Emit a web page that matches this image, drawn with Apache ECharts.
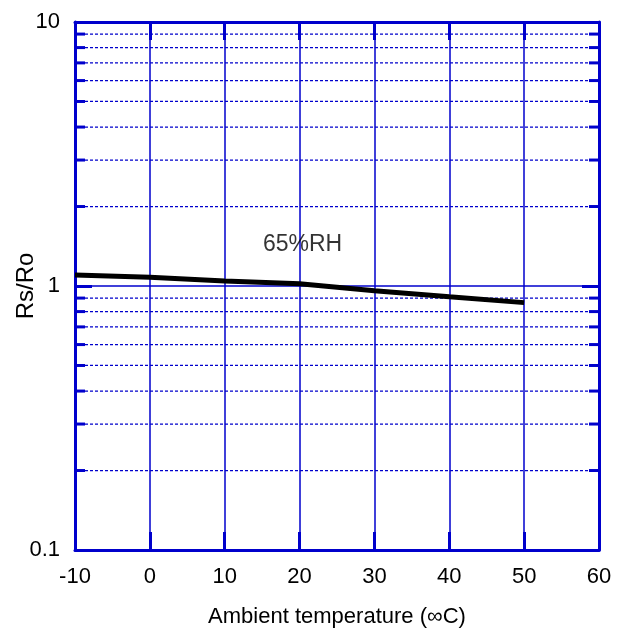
<!DOCTYPE html>
<html>
<head>
<meta charset="utf-8">
<script src="https://cdn.jsdelivr.net/npm/echarts@6/dist/echarts.min.js"></script>
<style>
html,body{margin:0;padding:0;background:#fff;}
#c{width:623px;height:633px;}
</style>
</head>
<body>
<div id="c"></div>
<script>
// Data
const temperatures = [-10, 0, 10, 20, 30, 40, 50];
const rsRo65 = [1.10, 1.08, 1.045, 1.02, 0.96, 0.91, 0.865];
const seriesLabel = '65%RH';
const labelAt = [20.4, 1.43];
const xTicks = [-10, 0, 10, 20, 30, 40, 50, 60];
const yMajor = [0.1, 1, 10];
const yMinor = [0.2, 0.3, 0.4, 0.5, 0.6, 0.7, 0.8, 0.9, 2, 3, 4, 5, 6, 7, 8, 9];
const xTitle = 'Ambient temperature (∞C)';
const yTitle = 'Rs/Ro';

const BLUE = '#0000cc';
const FONT = 'Liberation Sans, Arial, sans-serif';
const chart = echarts.init(document.getElementById('c'));

const xBase = {
  type: 'value', min: xTicks[0], max: xTicks[xTicks.length - 1], interval: 10,
  axisLine: { show: true, onZero: false, lineStyle: { color: BLUE, width: 3 } },
  axisTick: { show: true, inside: true, length: 18, lineStyle: { color: BLUE, width: 3 } }
};
const yBase = {
  type: 'log', logBase: 10, min: yMajor[0], max: yMajor[yMajor.length - 1],
  axisLine: { show: true, onZero: false, lineStyle: { color: BLUE, width: 3 } },
  axisTick: { show: true, inside: true, length: 17, lineStyle: { color: BLUE, width: 3 } }
};

chart.setOption({
  animation: false,
  backgroundColor: '#fff',
  grid: { left: 75, right: 24, top: 22, bottom: 82, containLabel: false },
  xAxis: [
    Object.assign({}, xBase, {
      position: 'bottom',
      name: xTitle, nameLocation: 'middle', nameGap: 56, nameMoveOverlap: false,
      nameTextStyle: { color: '#000', fontSize: 22, fontFamily: FONT },
      axisLabel: { color: '#000', fontSize: 22, fontFamily: FONT, margin: 16 },
      splitLine: { show: true, lineStyle: { color: BLUE, width: 1.5, type: 'solid' } }
    }),
    Object.assign({}, xBase, {
      position: 'top', axisLabel: { show: false }, splitLine: { show: false }
    })
  ],
  yAxis: [
    Object.assign({}, yBase, {
      position: 'left',
      name: yTitle, nameLocation: 'middle', nameGap: 37, nameMoveOverlap: false,
      nameTextStyle: { color: '#000', fontSize: 24, fontFamily: FONT },
      axisLabel: { color: '#000', fontSize: 22, fontFamily: FONT, margin: 15 },
      splitLine: { show: true, lineStyle: { color: BLUE, width: 1.5, type: 'solid' } }
    }),
    Object.assign({}, yBase, {
      position: 'right', axisLabel: { show: false }, splitLine: { show: false }
    })
  ],
  series: [
    {
      type: 'custom',
      silent: true,
      z: 1,
      data: yMinor.map(v => [v]),
      renderItem: function (params, api) {
        const v = api.value(0);
        const xMin = xTicks[0], xMax = xTicks[xTicks.length - 1];
        const p0 = api.coord([xMin, v]);
        const p1 = api.coord([xMax, v]);
        return {
          type: 'group',
          children: [
            { type: 'line', shape: { x1: p0[0], y1: p0[1], x2: p1[0], y2: p1[1] },
              style: { stroke: BLUE, lineWidth: 1.2, lineDash: [3, 2] } },
            { type: 'line', shape: { x1: p0[0], y1: p0[1], x2: p0[0] + 10, y2: p0[1] },
              style: { stroke: BLUE, lineWidth: 3 } },
            { type: 'line', shape: { x1: p1[0] - 10, y1: p1[1], x2: p1[0], y2: p1[1] },
              style: { stroke: BLUE, lineWidth: 3 } }
          ]
        };
      }
    },
    {
      type: 'line',
      z: 5,
      data: temperatures.map((t, i) => [t, rsRo65[i]]),
      showSymbol: false,
      symbol: 'none',
      lineStyle: { color: '#000', width: 5 }
    },
    {
      type: 'scatter',
      z: 6,
      data: [labelAt],
      symbolSize: 2,
      itemStyle: { color: 'rgba(0,0,0,0)' },
      label: {
        show: true, formatter: seriesLabel, position: 'inside',
        color: '#000', fontSize: 23, fontFamily: FONT
      }
    }
  ]
});
</script>
</body>
</html>
